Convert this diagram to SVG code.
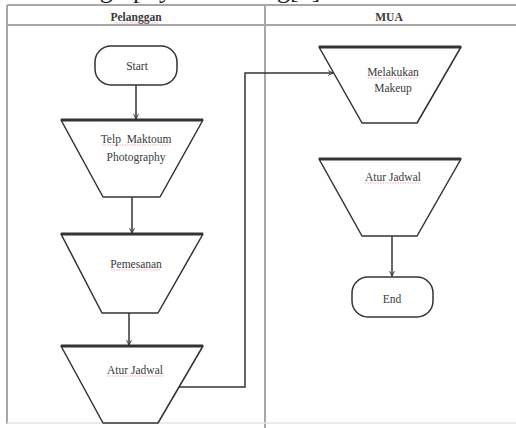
<svg xmlns="http://www.w3.org/2000/svg" width="516" height="428" viewBox="0 0 516 428">
<defs>
<marker id="arr" viewBox="0 0 10 10" refX="9" refY="5" markerWidth="6" markerHeight="6" orient="auto" markerUnits="userSpaceOnUse">
<path d="M1,1 L9,5 L1,9" fill="none" stroke="#333" stroke-width="1.6"/>
</marker>
<style>
.grid{stroke:#a8a8a8;stroke-width:2;fill:none}
.shape{fill:#fff;stroke:#333;stroke-width:1.5;stroke-linejoin:round}
.topedge{stroke:#333;stroke-width:3}
.conn{fill:none;stroke:#333;stroke-width:1.5}
.t{font-family:'Liberation Serif','DejaVu Serif',serif;font-size:11.5px;fill:#3a3a3a;text-anchor:middle}
.h{font-family:'Liberation Serif','DejaVu Serif',serif;font-size:11.5px;font-weight:bold;fill:#3a3a3a;text-anchor:middle}
.cap{font-family:'Liberation Serif','DejaVu Serif',serif;font-size:26px;fill:#222}
.sq{stroke:#e3a0a0;stroke-width:0.8;stroke-dasharray:1.5 1}
</style>
</defs>
<rect width="516" height="428" fill="#fff"/>
<text class="cap" x="172" y="-2" text-anchor="end">Photography</text>
<text class="cap" x="196" y="-2">Bandung[1]</text>
<g id="swimlanes">
<line class="grid" x1="7" y1="5" x2="516" y2="5"/>
<line class="grid" x1="7" y1="25" x2="516" y2="25"/>
<line class="grid" x1="7" y1="5" x2="7" y2="424"/>
<line class="grid" x1="265" y1="5" x2="265" y2="428"/>
<line x1="7" y1="423" x2="516" y2="423" stroke="#e4e4e4" stroke-width="1.5"/>
<text class="h" x="136" y="21">Pelanggan</text>
<line class="sq" x1="114" y1="23" x2="158" y2="23"/>
<text class="h" x="389" y="21">MUA</text>
</g>
<g id="connectors">
<line class="conn" x1="136" y1="85" x2="136" y2="119" marker-end="url(#arr)"/>
<line class="conn" x1="132" y1="197" x2="132" y2="233" marker-end="url(#arr)"/>
<line class="conn" x1="129" y1="313" x2="129" y2="345" marker-end="url(#arr)"/>
<polyline class="conn" points="179,387 245,387 245,73 333,73" marker-end="url(#arr)"/>
<line class="conn" x1="392" y1="236" x2="392" y2="276" marker-end="url(#arr)"/>
</g>
<g id="start">
<rect class="shape" x="95" y="46" width="82" height="39" rx="16"/>
<text class="t" x="137" y="70">Start</text>
</g>
<g id="telp">
<polygon class="shape" points="61,120 203,120 160,197 103,197"/>
<line class="topedge" x1="61" y1="120" x2="203" y2="120"/>
<text class="t" x="136" y="143" xml:space="preserve">Telp  Maktoum</text>
<text class="t" x="136" y="161">Photography</text>
<line class="sq" x1="102" y1="145" x2="170" y2="145"/>
</g>
<g id="pemesanan">
<polygon class="shape" points="61,234 203,234 158,313 102,313"/>
<line class="topedge" x1="61" y1="234" x2="203" y2="234"/>
<text class="t" x="136" y="268">Pemesanan</text>
<line class="sq" x1="111" y1="270" x2="161" y2="270"/>
</g>
<g id="atur-jadwal-1">
<polygon class="shape" points="61,346 203,346 158,423 103,423"/>
<line class="topedge" x1="61" y1="346" x2="203" y2="346"/>
<text class="t" x="135" y="374">Atur Jadwal</text>
<line class="sq" x1="107" y1="376" x2="164" y2="376"/>
</g>
<g id="melakukan-makeup">
<polygon class="shape" points="319,47 461,47 417,123 362,123"/>
<line class="topedge" x1="319" y1="47" x2="461" y2="47"/>
<text class="t" x="393" y="76">Melakukan</text>
<text class="t" x="393" y="92">Makeup</text>
<line class="sq" x1="368" y1="78" x2="418" y2="78"/>
</g>
<g id="atur-jadwal-2">
<polygon class="shape" points="319,159 461,159 417,236 362,236"/>
<line class="topedge" x1="319" y1="159" x2="461" y2="159"/>
<text class="t" x="393" y="181">Atur Jadwal</text>
<line class="sq" x1="365" y1="183" x2="421" y2="183"/>
</g>
<g id="end">
<rect class="shape" x="352" y="277" width="81" height="40" rx="16"/>
<text class="t" x="392" y="303">End</text>
</g>
</svg>
